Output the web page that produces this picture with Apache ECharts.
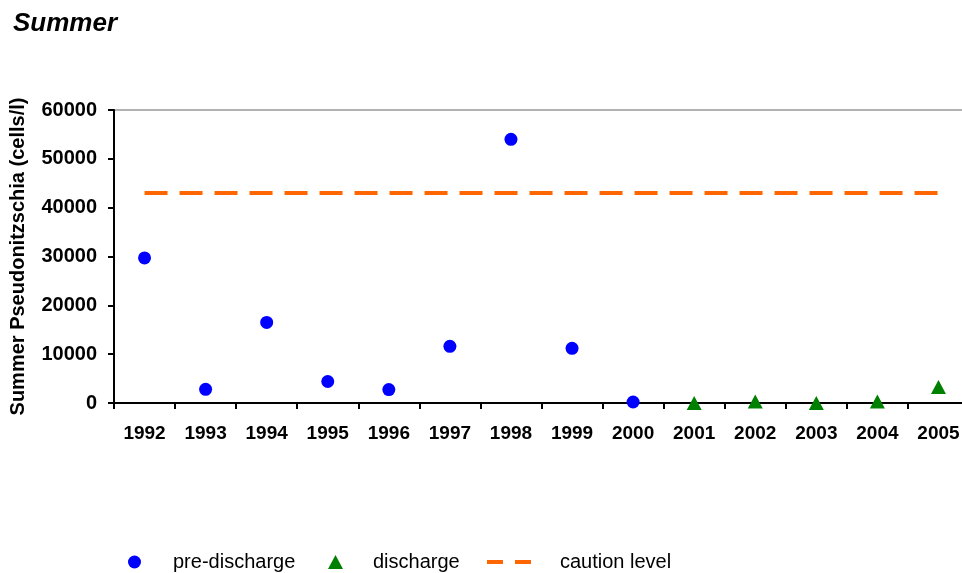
<!DOCTYPE html>
<html>
<head>
<meta charset="utf-8">
<script src="https://cdn.jsdelivr.net/npm/echarts@6/dist/echarts.min.js"></script>
<style>
  html, body { margin: 0; padding: 0; background: #ffffff; }
  #chart { width: 962px; height: 573px; }
</style>
</head>
<body>
<div id="chart"></div>
<script>
// Summer Pseudonitzschia counts per year (cells/l)
const years = ['1992', '1993', '1994', '1995', '1996', '1997', '1998',
               '1999', '2000', '2001', '2002', '2003', '2004', '2005'];
const preDischarge = [29700, 2800, 16500, 4400, 2750, 11600, 54000,
                      11200, 200, null, null, null, null, null];
const discharge = [null, null, null, null, null, null, null,
                   null, null, 0, 300, 0, 300, 3300];
const cautionLevel = [43000, 43000, 43000, 43000, 43000, 43000, 43000,
                      43000, 43000, 43000, 43000, 43000, 43000, 43000];
const yTicks = { min: 0, max: 60000, interval: 10000 };

const FONT = '"Liberation Sans", Arial, sans-serif';
const legendText = { fontFamily: FONT, fontSize: 20, color: '#000' };

const chart = echarts.init(document.getElementById('chart'), null, { renderer: 'canvas' });

chart.setOption({
  animation: false,
  backgroundColor: '#ffffff',
  textStyle: { fontFamily: FONT },
  title: {
    text: 'Summer',
    left: 13,
    top: 11,
    padding: 0,
    textStyle: { fontFamily: FONT, fontSize: 26, fontWeight: 'bold', fontStyle: 'italic', color: '#000' }
  },
  grid: {
    left: 114, top: 110, bottom: 170, right: -7,
    outerBoundsMode: 'none',
    containLabel: false,
    show: true, borderColor: '#999999', borderWidth: 1.5, backgroundColor: 'transparent'
  },
  legend: [
    {
      data: [{ name: 'pre-discharge', icon: 'circle' }],
      left: 128, top: 552, padding: 0, itemWidth: 13, itemHeight: 13,
      textStyle: Object.assign({ padding: [0, 0, 0, 27] }, legendText)
    },
    {
      data: [{ name: 'discharge', icon: 'triangle' }],
      left: 328, top: 552, padding: 0, itemWidth: 15, itemHeight: 14,
      textStyle: Object.assign({ padding: [0, 0, 0, 25] }, legendText)
    },
    {
      // two short orange dashes as the caution-level key
      data: [{ name: 'caution level', icon: 'path://M0,0H16V4H0Z M28,0H44V4H28Z',
               itemStyle: { color: '#FF6600' } }],
      left: 487, top: 552, padding: 0, itemWidth: 44, itemHeight: 4,
      textStyle: Object.assign({ padding: [0, 0, 0, 24] }, legendText)
    }
  ],
  xAxis: {
    type: 'category',
    data: years,
    boundaryGap: true,
    axisLine: { lineStyle: { color: '#000', width: 2 } },
    axisTick: { show: true, length: 6, inside: false, alignWithLabel: false, lineStyle: { color: '#000', width: 2 } },
    axisLabel: { color: '#000', fontFamily: FONT, fontSize: 19, fontWeight: 'bold', margin: 21, interval: 0 },
    splitLine: { show: false }
  },
  yAxis: {
    type: 'value',
    min: yTicks.min, max: yTicks.max, interval: yTicks.interval,
    name: 'Summer Pseudonitzschia (cells/l)',
    nameLocation: 'middle',
    nameRotate: 90,
    nameGap: 86,
    nameTextStyle: { color: '#000', fontFamily: FONT, fontSize: 20, fontWeight: 'bold' },
    axisLine: { show: true, lineStyle: { color: '#000', width: 2 } },
    axisTick: { show: true, length: 6, lineStyle: { color: '#000', width: 2 } },
    axisLabel: {
      color: '#000', fontFamily: FONT, fontSize: 20, fontWeight: 'bold', margin: 17,
      formatter: function (v) { return String(v); }
    },
    splitLine: { show: false }
  },
  series: [
    {
      name: 'pre-discharge',
      type: 'scatter',
      data: preDischarge,
      symbol: 'circle',
      symbolSize: 13,
      itemStyle: { color: '#0000FF', opacity: 1 },
      z: 3
    },
    {
      name: 'discharge',
      type: 'scatter',
      data: discharge,
      symbol: 'triangle',
      symbolSize: [15, 14],
      itemStyle: { color: '#008000', opacity: 1 },
      z: 3
    },
    {
      name: 'caution level',
      type: 'line',
      data: cautionLevel,
      showSymbol: false,
      symbol: 'none',
      lineStyle: { color: '#FF6600', width: 4, type: [23, 12] },
      itemStyle: { color: '#FF6600' },
      z: 2
    }
  ]
});
</script>
</body>
</html>
